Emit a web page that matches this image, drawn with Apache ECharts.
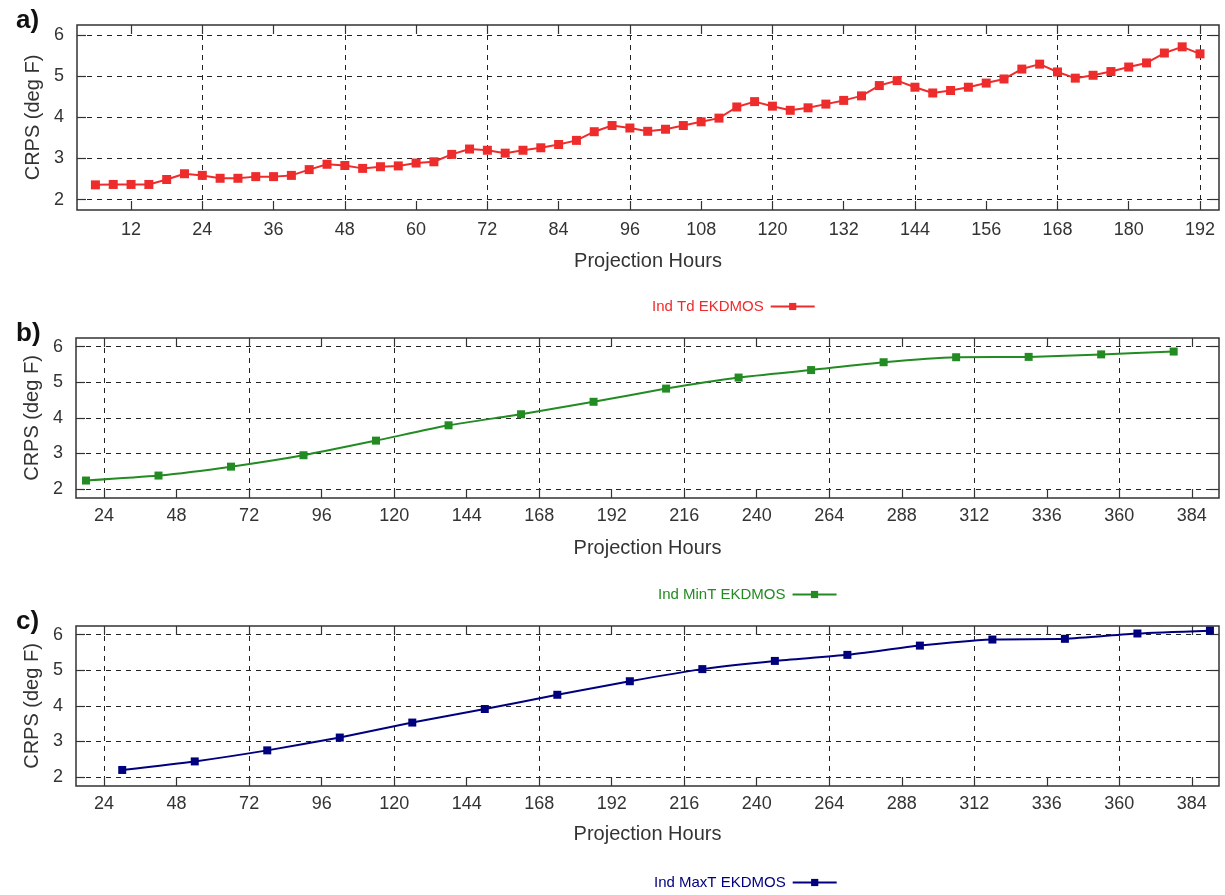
<!DOCTYPE html>
<html>
<head>
<meta charset="utf-8">
<script src="https://cdn.jsdelivr.net/npm/echarts@6/dist/echarts.min.js"></script>
<style>html,body{margin:0;padding:0;background:#fff;}#chart{width:1225px;height:895px;}</style>
</head>
<body>
<div id="chart"></div>
<script>
// ---- Data ----
const hoursTd = [6,9,12,15,18,21,24,27,30,33,36,39,42,45,48,51,54,57,60,63,66,69,72,75,78,81,84,87,90,93,96,99,102,105,108,111,114,117,120,123,126,129,132,135,138,141,144,147,150,153,156,159,162,165,168,171,174,177,180,183,186,189,192];
const crpsTd = [2.36,2.37,2.37,2.37,2.49,2.63,2.59,2.52,2.52,2.56,2.56,2.59,2.73,2.86,2.83,2.76,2.80,2.82,2.89,2.92,3.10,3.23,3.20,3.13,3.20,3.26,3.34,3.44,3.65,3.80,3.74,3.66,3.71,3.80,3.89,3.98,4.25,4.38,4.27,4.17,4.23,4.32,4.41,4.52,4.77,4.89,4.73,4.59,4.65,4.73,4.83,4.93,5.17,5.29,5.10,4.95,5.02,5.11,5.22,5.32,5.56,5.71,5.54];

const hoursMinT = [18,42,66,90,114,138,162,186,210,234,258,282,306,330,354,378];
const crpsMinT = [2.24,2.38,2.63,2.95,3.36,3.79,4.10,4.45,4.82,5.13,5.34,5.56,5.70,5.71,5.78,5.86];

const hoursMaxT = [30,54,78,102,126,150,174,198,222,246,270,294,318,342,366,390];
const crpsMaxT = [2.20,2.44,2.75,3.11,3.53,3.91,4.31,4.69,5.03,5.26,5.43,5.69,5.86,5.88,6.03,6.11];

const seriesNames = ['Ind Td EKDMOS', 'Ind MinT EKDMOS', 'Ind MaxT EKDMOS'];
const panelLabels = ['a)', 'b)', 'c)'];

const xTicksA = [12,24,36,48,60,72,84,96,108,120,132,144,156,168,180,192];
const xGridA = [24,48,72,96,120,144,168,192];
const xTicksBC = [24,48,72,96,120,144,168,192,216,240,264,288,312,336,360,384];
const xGridBC = [24,72,120,168,216,264,312,360];
const yTicks = [2,3,4,5,6];

const xNameText = 'Projection Hours';
const yNameText = 'CRPS (deg F)';

// ---- Styling / layout ----
const FONT = "'Liberation Sans', Arial, sans-serif";
const TXT = '#333';
const colors = ['#ee2c2c', '#228b22', '#00007f'];

const panels = [
  {top: 25, height: 185, left: 77, xmin: 2.9, xmax: 195.2, ticks: xTicksA, grid: xGridA,
   hours: hoursTd, vals: crpsTd, sym: 9, lblMargin: 11, nameGap: 41, smooth: false,
   legendLeft: 647, legendTop: 294},
  {top: 338, height: 160, left: 76, xmin: 14.7, xmax: 393, ticks: xTicksBC, grid: xGridBC,
   hours: hoursMinT, vals: crpsMinT, sym: 8, lblMargin: 9, nameGap: 40, smooth: 0.2,
   legendLeft: 653, legendTop: 582},
  {top: 626, height: 160, left: 76, xmin: 14.7, xmax: 393, ticks: xTicksBC, grid: xGridBC,
   hours: hoursMaxT, vals: crpsMaxT, sym: 8, lblMargin: 9, nameGap: 38, smooth: 0.2,
   legendLeft: 649, legendTop: 870}
];

const dashed = {show: true, lineStyle: {color: '#222', type: [5, 5], width: 1}};

const grids = [], xAxes = [], yAxes = [], series = [], legends = [], titles = [];
const titleTops = [3, 316, 604];

panels.forEach((p, i) => {
  grids.push({left: p.left, right: 6, top: p.top, height: p.height, containLabel: false,
    show: true, borderColor: '#333', borderWidth: 1.5, backgroundColor: 'transparent'});

  // main bottom axis
  xAxes.push({type: 'value', gridIndex: i, position: 'bottom', min: p.xmin, max: p.xmax,
    axisLine: {show: false},
    axisTick: {show: true, inside: true, length: 9, customValues: p.ticks, lineStyle: {color: '#333', width: 1.2}},
    axisLabel: {show: true, customValues: p.ticks, margin: p.lblMargin, color: TXT, fontSize: 18, fontFamily: FONT},
    splitLine: {show: false},
    name: xNameText, nameLocation: 'middle', nameGap: p.nameGap,
    nameTextStyle: {color: TXT, fontSize: 20, fontFamily: FONT}});
  // top mirror ticks
  xAxes.push({type: 'value', gridIndex: i, position: 'top', min: p.xmin, max: p.xmax,
    axisLine: {show: false},
    axisTick: {show: true, inside: true, length: 9, customValues: p.ticks, lineStyle: {color: '#333', width: 1.2}},
    axisLabel: {show: false}, splitLine: {show: false}});
  // dashed grid lines
  xAxes.push({type: 'value', gridIndex: i, position: 'bottom', min: p.xmin, max: p.xmax,
    axisLine: {show: false},
    axisTick: {show: false, customValues: p.grid},
    axisLabel: {show: false, customValues: p.grid},
    splitLine: Object.assign({customValues: p.grid}, dashed)});

  yAxes.push({type: 'value', gridIndex: i, position: 'left', min: 1.75, max: 6.24,
    axisLine: {show: false},
    axisTick: {show: true, inside: true, length: 9, customValues: yTicks, lineStyle: {color: '#333', width: 1.2}},
    axisLabel: {show: true, customValues: yTicks, margin: 13, color: TXT, fontSize: 18, fontFamily: FONT},
    splitLine: dashed,
    name: yNameText, nameLocation: 'middle', nameGap: 33,
    nameTextStyle: {color: TXT, fontSize: 20, fontFamily: FONT}});
  yAxes.push({type: 'value', gridIndex: i, position: 'right', min: 1.75, max: 6.24,
    axisLine: {show: false},
    axisTick: {show: true, inside: true, length: 9, customValues: yTicks, lineStyle: {color: '#333', width: 1.2}},
    axisLabel: {show: false}, splitLine: {show: false}});

  series.push({type: 'line', name: seriesNames[i], xAxisIndex: 3 * i, yAxisIndex: 2 * i,
    data: p.hours.map((h, k) => [h, p.vals[k]]),
    symbol: 'rect', symbolSize: p.sym, smooth: p.smooth,
    lineStyle: {color: colors[i], width: 2}, itemStyle: {color: colors[i]},
    emphasis: {disabled: true}, z: 5});

  legends.push({data: [seriesNames[i]], left: p.legendLeft, top: p.legendTop, orient: 'horizontal',
    align: 'right', itemWidth: 44, itemHeight: 9, selectedMode: false,
    textStyle: {color: colors[i], fontSize: 15, fontFamily: FONT, padding: [0, 2, 0, 0]}});

  titles.push({text: panelLabels[i], left: 11, top: titleTops[i],
    textStyle: {fontSize: 26, fontWeight: 'bold', color: '#111', fontFamily: FONT}});
});

const chart = echarts.init(document.getElementById('chart'), null, {renderer: 'canvas'});
chart.setOption({
  animation: false,
  backgroundColor: '#fff',
  title: titles,
  grid: grids,
  xAxis: xAxes,
  yAxis: yAxes,
  legend: legends,
  series: series
});
</script>
</body>
</html>
